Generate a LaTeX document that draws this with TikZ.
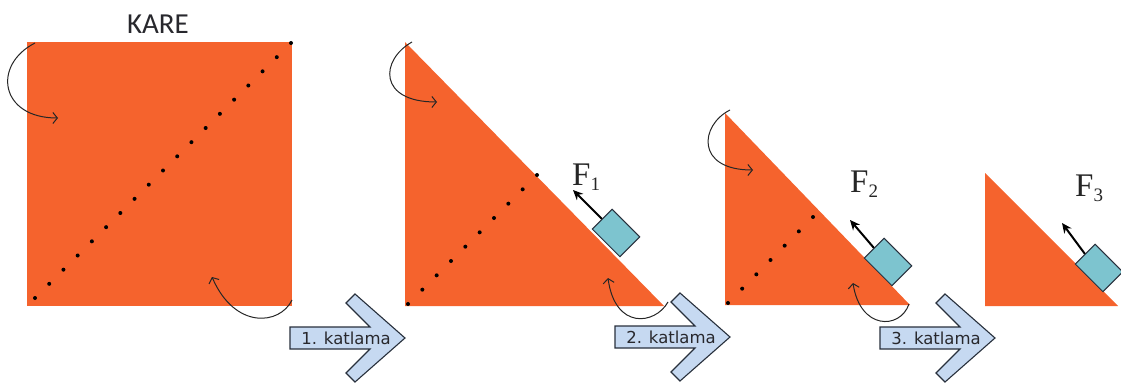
\documentclass[tikz,border=0pt]{standalone}
\usepackage{fontspec}
\usetikzlibrary{arrows.meta, calc}

\newfontfamily\karefam{Carlito}
\newfontfamily\foldfam{DejaVu Sans}
\newfontfamily\forcefam{Liberation Serif}

\definecolor{sheetorange}{RGB}{245,99,45}
\definecolor{weightcyan}{RGB}{125,196,207}
\definecolor{foldblue}{RGB}{198,217,241}
\definecolor{foldline}{RGB}{40,48,60}
\definecolor{textgray}{RGB}{40,40,45}

\newcommand{\forcelabel}[1]{F\raisebox{-5pt}{\fontsize{19}{20}\selectfont #1}}

\begin{document}
\begin{tikzpicture}[
  x=1pt, y=-1pt,
  sheet/.style={fill=sheetorange},
  creasedot/.style={fill=black},
  flip/.style={-{Straight Barb[length=4.5pt,width=11pt]}, line width=1pt, draw=black!85},
  weight/.style={rectangle, draw=foldline, fill=weightcyan, line width=1pt,
    minimum width=39pt, minimum height=28pt, inner sep=0pt, rotate=-45},
  pull/.style={-{Stealth[length=10pt,width=9pt]}, line width=2pt},
  forcetext/.style={font={\forcefam\fontsize{33}{36}\selectfont}, text=black!85, anchor=base west, inner sep=0pt},
  foldarrow/.style={draw=foldline, fill=foldblue, line width=1.1pt},
  foldtext/.style={font={\foldfam\fontsize{16.5}{18}\selectfont}, text=textgray, inner sep=0pt}
]
\useasboundingbox (0,0) rectangle (1121,385);

% square sheet
\node[font={\karefam\fontsize{29}{32}\selectfont}, text=textgray] (kare) at (158,24) {KARE};
\fill[sheet] (27,42) rectangle (292,306);
\coordinate (sqA) at (35,298);
\coordinate (sqB) at (291,43);
\foreach \i in {0,...,18}
  \fill[creasedot] ($(sqA)!\i/18!(sqB)$) circle (2pt);
\draw[flip] (35,43) .. controls (-8,65) and (0,118) .. (58,118);
\draw[flip] (292,300) .. controls (280,325) and (235,330) .. (212,277);

% first fold
\fill[sheet] (405,42) -- (405,306) -- (664,306) -- cycle;
\coordinate (t1A) at (408,304);
\coordinate (t1B) at (537,175);
\foreach \i in {0,...,9}
  \fill[creasedot] ($(t1A)!\i/9!(t1B)$) circle (2pt);
\draw[flip] (412,42) .. controls (380,60) and (378,102) .. (437,102);
\draw[flip] (668,302) .. controls (655,325) and (615,330) .. (608,278);
\node[weight] (w1) at (616,233) {};
\coordinate (f1tip) at (573,190);
\draw[pull] (w1.west) -- (f1tip);
\node[forcetext] (f1) at (572,185) {\forcelabel{1}};

% second fold
\fill[sheet] (725,113) -- (725,305) -- (910,305) -- cycle;
\coordinate (t2A) at (728,303);
\coordinate (t2B) at (813,217);
\foreach \i in {0,...,6}
  \fill[creasedot] ($(t2A)!\i/6!(t2B)$) circle (2pt);
\draw[flip] (730,110) .. controls (700,125) and (695,170) .. (753,170);
\node[weight] (w2) at (888,262) {};
\coordinate (f2tip) at (850,220);
\draw[pull] (w2.west) -- (f2tip);
\node[forcetext] (f2) at (850,192) {\forcelabel{2}};

% third fold
\fill[sheet] (985,173) -- (985,306) -- (1118,306) -- cycle;
\node[weight] (w3) at (1099,268) {};
\coordinate (f3tip) at (1062,223);
\draw[pull] (w3.west) -- (f3tip);
\node[forcetext] (f3) at (1075,196) {\forcelabel{3}};

% fold arrows
\foreach \tx/\ty/\n in {405/338/1, 730/337/2, 995/338/3} {
  \begin{scope}[shift={(\tx,\ty)}]
    \draw[foldarrow] (-115,-11) -- (-35,-11) -- (-59,-35) -- (-50,-44) -- (0,0)
      -- (-50,44) -- (-59,35) -- (-35,11) -- (-115,11) -- cycle;
    \node[foldtext] (fold\n) at (-59,0) {\n. katlama};
  \end{scope}
}
\draw[flip] (909,304) .. controls (900,330) and (860,330) .. (853,283);

\end{tikzpicture}
\end{document}
